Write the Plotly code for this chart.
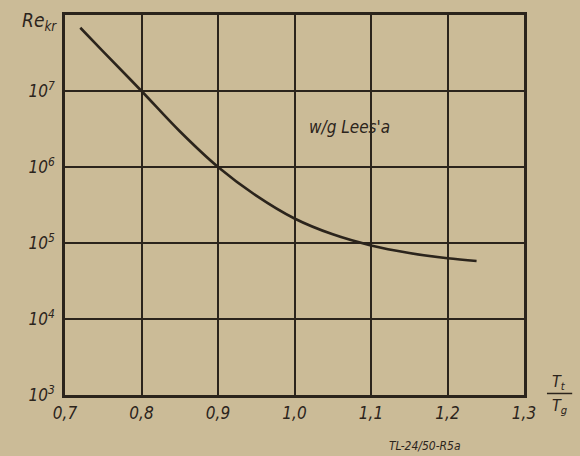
import plotly.graph_objects as go

# Data
ratio_t = [0.72, 0.75, 0.80, 0.85, 0.90, 0.95, 1.00, 1.05, 1.10, 1.15, 1.20, 1.238]
re_kr = [6.8e7, 3.3e7, 1.0e7, 2.95e6, 1.0e6, 4.2e5, 2.1e5, 1.3e5, 9.3e4, 7.4e4, 6.3e4, 5.8e4]

x_ticks = [0.7, 0.8, 0.9, 1.0, 1.1, 1.2, 1.3]
x_tick_labels = ["0,7", "0,8", "0,9", "1,0", "1,1", "1,2", "1,3"]
y_ticks = [1e3, 1e4, 1e5, 1e6, 1e7]
y_tick_labels = ["10<sup>3</sup>", "10<sup>4</sup>", "10<sup>5</sup>", "10<sup>6</sup>", "10<sup>7</sup>"]

BG = "#cbbb97"
INK = "#2b241c"
FONT = "DejaVu Sans Condensed"


def ifont(size):
    return dict(family=FONT, size=size, color=INK, style="italic")


fig = go.Figure()
fig.add_trace(go.Scatter(
    x=ratio_t, y=re_kr, mode="lines",
    line=dict(color=INK, width=2.6, shape="spline", smoothing=1.0),
    showlegend=False, hoverinfo="skip",
))

fig.update_layout(
    width=580, height=456,
    margin=dict(l=65, r=56, t=13, b=61),
    paper_bgcolor=BG, plot_bgcolor=BG,
    font=ifont(17),
    xaxis=dict(
        range=[0.7, 1.3], tickvals=x_ticks, ticktext=x_tick_labels,
        showgrid=True, gridcolor=INK, gridwidth=2,
        showline=True, linecolor=INK, linewidth=2.5, mirror=True,
        ticks="", ticklabelstandoff=1, zeroline=False,
        tickfont=ifont(17),
    ),
    yaxis=dict(
        type="log", range=[3, 8], tickvals=y_ticks + [1e8], ticktext=y_tick_labels + [""],
        showgrid=True, gridcolor=INK, gridwidth=2,
        showline=True, linecolor=INK, linewidth=2.5, mirror=True,
        ticks="", ticklabelstandoff=4, zeroline=False,
        tickfont=ifont(17),
    ),
    annotations=[
        dict(text="Re<sub>kr</sub>", xref="paper", yref="paper", x=-0.014, y=0.984,
             xanchor="right", yanchor="middle", showarrow=False, font=ifont(19)),
        dict(text="w/g Lees'a", xref="x", yref="y", x=1.072, y=6.52,
             xanchor="center", yanchor="middle", showarrow=False, font=ifont(17)),
        dict(text="T<sub>t</sub>", xref="paper", yref="paper", x=1.077, y=0.032,
             xanchor="center", yanchor="middle", showarrow=False, font=ifont(16)),
        dict(text="T<sub>g</sub>", xref="paper", yref="paper", x=1.077, y=-0.03,
             xanchor="center", yanchor="middle", showarrow=False, font=ifont(16)),
        dict(text="TL-24/50-R5a", xref="paper", yref="paper", x=0.785, y=-0.133,
             xanchor="center", yanchor="middle", showarrow=False, font=ifont(12)),
    ],
    shapes=[
        dict(type="line", xref="paper", yref="paper", x0=1.05, x1=1.105, y0=0.004, y1=0.004,
             line=dict(color=INK, width=1.5)),
    ],
)

fig.write_html(
    "out.html",
    config={"displayModeBar": False},
    post_script="document.body.style.margin='0';document.body.style.background='%s';" % BG,
)
